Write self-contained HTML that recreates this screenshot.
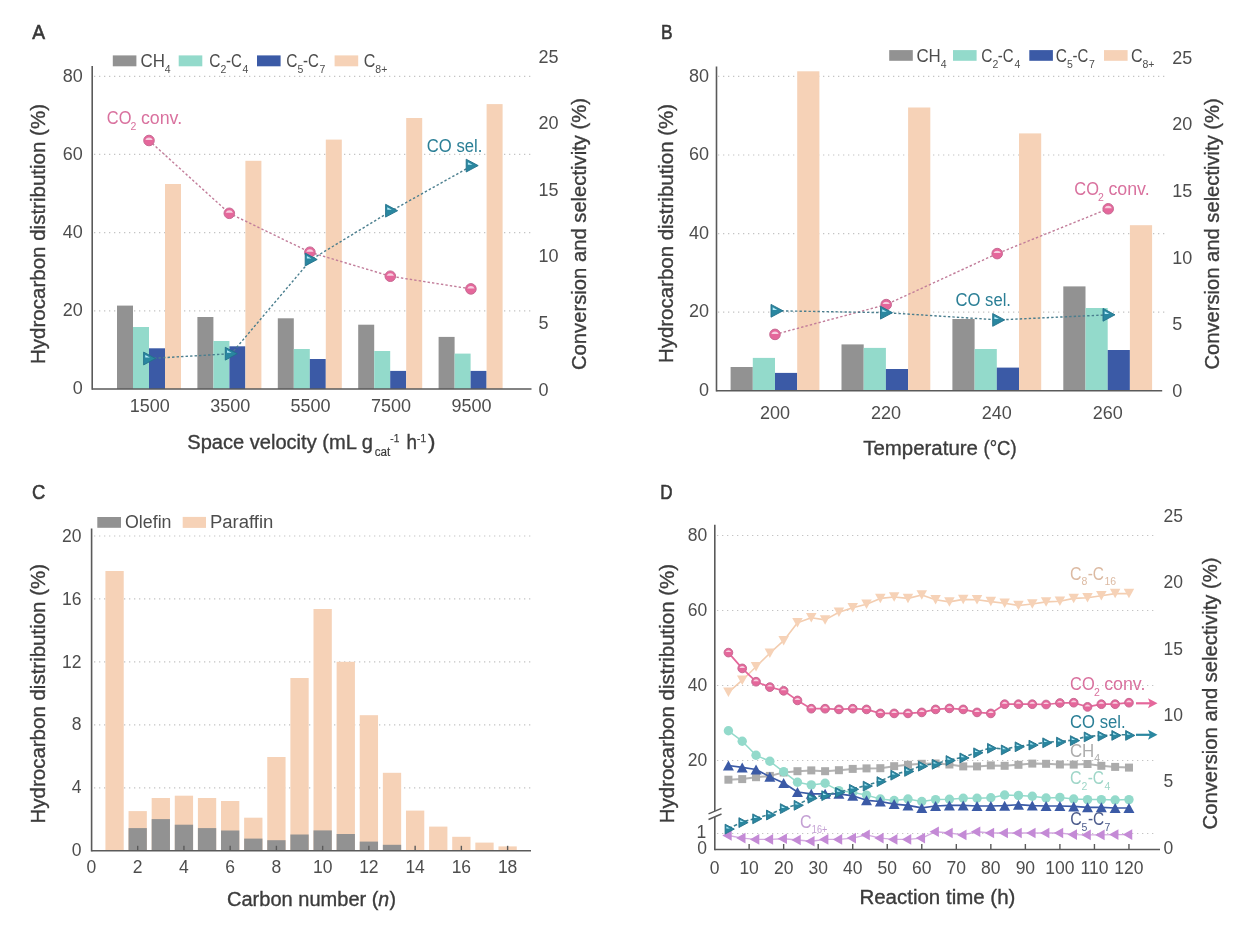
<!DOCTYPE html>
<html><head><meta charset="utf-8"><style>
html,body{margin:0;padding:0;background:#fff;width:1248px;height:938px;overflow:hidden}
svg{display:block;will-change:transform;font-family:"Liberation Sans", sans-serif}
</style></head><body>
<svg width="1248" height="938" viewBox="0 0 1248 938">
<rect width="1248" height="938" fill="#ffffff"/>
<text x="32.30" y="38.70" font-size="20.5" fill="#383838" textLength="12.80" lengthAdjust="spacingAndGlyphs" stroke="#383838" stroke-width="0.6">A</text>
<line x1="94.00" y1="310.82" x2="534.00" y2="310.82" stroke="#c4c4c4" stroke-width="1.2" stroke-dasharray="1.3 3.7" stroke-linecap="butt"/>
<line x1="94.00" y1="232.65" x2="534.00" y2="232.65" stroke="#c4c4c4" stroke-width="1.2" stroke-dasharray="1.3 3.7" stroke-linecap="butt"/>
<line x1="94.00" y1="154.47" x2="534.00" y2="154.47" stroke="#c4c4c4" stroke-width="1.2" stroke-dasharray="1.3 3.7" stroke-linecap="butt"/>
<line x1="94.00" y1="76.30" x2="534.00" y2="76.30" stroke="#c4c4c4" stroke-width="1.2" stroke-dasharray="1.3 3.7" stroke-linecap="butt"/>
<rect x="117.00" y="305.60" width="16.00" height="83.40" fill="#929292"/>
<rect x="133.00" y="327.00" width="16.00" height="62.00" fill="#93dacb"/>
<rect x="149.00" y="348.30" width="16.00" height="40.70" fill="#3b5aa6"/>
<rect x="165.00" y="184.00" width="16.00" height="205.00" fill="#f6d2b7"/>
<rect x="197.40" y="317.00" width="16.00" height="72.00" fill="#929292"/>
<rect x="213.40" y="341.00" width="16.00" height="48.00" fill="#93dacb"/>
<rect x="229.40" y="346.30" width="16.00" height="42.70" fill="#3b5aa6"/>
<rect x="245.40" y="160.80" width="16.00" height="228.20" fill="#f6d2b7"/>
<rect x="277.80" y="318.30" width="16.00" height="70.70" fill="#929292"/>
<rect x="293.80" y="349.00" width="16.00" height="40.00" fill="#93dacb"/>
<rect x="309.80" y="359.00" width="16.00" height="30.00" fill="#3b5aa6"/>
<rect x="325.80" y="139.60" width="16.00" height="249.40" fill="#f6d2b7"/>
<rect x="358.20" y="324.70" width="16.00" height="64.30" fill="#929292"/>
<rect x="374.20" y="351.00" width="16.00" height="38.00" fill="#93dacb"/>
<rect x="390.20" y="370.90" width="16.00" height="18.10" fill="#3b5aa6"/>
<rect x="406.20" y="118.00" width="16.00" height="271.00" fill="#f6d2b7"/>
<rect x="438.60" y="336.90" width="16.00" height="52.10" fill="#929292"/>
<rect x="454.60" y="353.60" width="16.00" height="35.40" fill="#93dacb"/>
<rect x="470.60" y="370.90" width="16.00" height="18.10" fill="#3b5aa6"/>
<rect x="486.60" y="104.10" width="16.00" height="284.90" fill="#f6d2b7"/>
<line x1="92.20" y1="66.00" x2="92.20" y2="389.75" stroke="#5a5a5a" stroke-width="1.6" stroke-linecap="butt"/>
<line x1="92.20" y1="389.00" x2="531.50" y2="389.00" stroke="#5a5a5a" stroke-width="1.6" stroke-linecap="butt"/>
<text x="82.80" y="394.30" font-size="18" fill="#4d4d4d" text-anchor="end">0</text>
<text x="82.80" y="316.12" font-size="18" fill="#4d4d4d" text-anchor="end">20</text>
<text x="82.80" y="237.95" font-size="18" fill="#4d4d4d" text-anchor="end">40</text>
<text x="82.80" y="159.78" font-size="18" fill="#4d4d4d" text-anchor="end">60</text>
<text x="82.80" y="81.60" font-size="18" fill="#4d4d4d" text-anchor="end">80</text>
<text x="538.60" y="395.50" font-size="18" fill="#4d4d4d">0</text>
<text x="538.60" y="328.94" font-size="18" fill="#4d4d4d">5</text>
<text x="538.60" y="262.38" font-size="18" fill="#4d4d4d">10</text>
<text x="538.60" y="195.82" font-size="18" fill="#4d4d4d">15</text>
<text x="538.60" y="129.26" font-size="18" fill="#4d4d4d">20</text>
<text x="538.60" y="62.70" font-size="18" fill="#4d4d4d">25</text>
<text x="149.80" y="412.40" font-size="18" fill="#4d4d4d" text-anchor="middle">1500</text>
<text x="230.20" y="412.40" font-size="18" fill="#4d4d4d" text-anchor="middle">3500</text>
<text x="310.60" y="412.40" font-size="18" fill="#4d4d4d" text-anchor="middle">5500</text>
<text x="391.00" y="412.40" font-size="18" fill="#4d4d4d" text-anchor="middle">7500</text>
<text x="471.40" y="412.40" font-size="18" fill="#4d4d4d" text-anchor="middle">9500</text>
<polyline points="149.00,140.50 229.30,213.30 309.90,252.20 390.30,276.20 470.90,288.90" fill="none" stroke="#c27d9a" stroke-width="1.4" stroke-dasharray="2.4 2.1" stroke-linejoin="round"/>
<polyline points="149.60,358.50 231.30,353.70 311.20,259.50 391.60,210.70 472.20,165.60" fill="none" stroke="#4a7e8e" stroke-width="1.4" stroke-dasharray="2.4 2.1" stroke-linejoin="round"/>
<circle cx="149.00" cy="140.50" r="5.30" fill="#e5679b" stroke="#c76a93" stroke-width="1.0"/>
<path d="M145.32,140.00 A4.00,4.00 0 0 1 152.68,140.00 Z" fill="#f7cfe0"/>
<circle cx="229.30" cy="213.30" r="5.30" fill="#e5679b" stroke="#c76a93" stroke-width="1.0"/>
<path d="M225.62,212.80 A4.00,4.00 0 0 1 232.98,212.80 Z" fill="#f7cfe0"/>
<circle cx="309.90" cy="252.20" r="5.30" fill="#e5679b" stroke="#c76a93" stroke-width="1.0"/>
<path d="M306.22,251.70 A4.00,4.00 0 0 1 313.58,251.70 Z" fill="#f7cfe0"/>
<circle cx="390.30" cy="276.20" r="5.30" fill="#e5679b" stroke="#c76a93" stroke-width="1.0"/>
<path d="M386.62,275.70 A4.00,4.00 0 0 1 393.98,275.70 Z" fill="#f7cfe0"/>
<circle cx="470.90" cy="288.90" r="5.30" fill="#e5679b" stroke="#c76a93" stroke-width="1.0"/>
<path d="M467.22,288.40 A4.00,4.00 0 0 1 474.58,288.40 Z" fill="#f7cfe0"/>
<path d="M143.60,352.10 L155.60,358.50 L143.60,364.90 Z" fill="#2a87a0" stroke="#22708a" stroke-width="0.9" stroke-linejoin="round"/>
<path d="M145.28,355.04 L149.84,357.60 L145.28,357.60 Z" fill="#b4ecfa"/>
<path d="M225.30,347.30 L237.30,353.70 L225.30,360.10 Z" fill="#2a87a0" stroke="#22708a" stroke-width="0.9" stroke-linejoin="round"/>
<path d="M226.98,350.24 L231.54,352.80 L226.98,352.80 Z" fill="#b4ecfa"/>
<path d="M305.20,253.10 L317.20,259.50 L305.20,265.90 Z" fill="#2a87a0" stroke="#22708a" stroke-width="0.9" stroke-linejoin="round"/>
<path d="M306.88,256.04 L311.44,258.60 L306.88,258.60 Z" fill="#b4ecfa"/>
<path d="M385.60,204.30 L397.60,210.70 L385.60,217.10 Z" fill="#2a87a0" stroke="#22708a" stroke-width="0.9" stroke-linejoin="round"/>
<path d="M387.28,207.24 L391.84,209.80 L387.28,209.80 Z" fill="#b4ecfa"/>
<path d="M466.20,159.20 L478.20,165.60 L466.20,172.00 Z" fill="#2a87a0" stroke="#22708a" stroke-width="0.9" stroke-linejoin="round"/>
<path d="M467.88,162.14 L472.44,164.70 L467.88,164.70 Z" fill="#b4ecfa"/>
<text x="106.80" y="124.10" font-size="18" fill="#d9719e" textLength="24.60" lengthAdjust="spacingAndGlyphs">CO</text>
<text x="130.60" y="130.10" font-size="10.5" fill="#d9719e">2</text>
<text x="140.90" y="124.10" font-size="18" fill="#d9719e" textLength="41.20" lengthAdjust="spacingAndGlyphs">conv.</text>
<text x="426.80" y="152.10" font-size="18" fill="#2b7f96" textLength="55.50" lengthAdjust="spacingAndGlyphs">CO sel.</text>
<rect x="112.80" y="55.40" width="23.60" height="10.90" fill="#929292"/>
<rect x="178.70" y="55.40" width="23.60" height="10.90" fill="#93dacb"/>
<rect x="257.00" y="55.40" width="23.60" height="10.90" fill="#3b5aa6"/>
<rect x="334.60" y="55.40" width="23.60" height="10.90" fill="#f6d2b7"/>
<text x="140.55" y="66.90" font-size="18" fill="#4d4d4d" textLength="24.40" lengthAdjust="spacingAndGlyphs">CH</text>
<text x="164.85" y="72.80" font-size="10.5" fill="#4d4d4d">4</text>
<text x="209.30" y="66.90" font-size="18" fill="#4d4d4d" textLength="11.20" lengthAdjust="spacingAndGlyphs">C</text>
<text x="220.60" y="72.80" font-size="10.5" fill="#4d4d4d">2</text>
<text x="225.90" y="66.90" font-size="18" fill="#4d4d4d" textLength="15.80" lengthAdjust="spacingAndGlyphs">-C</text>
<text x="242.60" y="72.80" font-size="10.5" fill="#4d4d4d">4</text>
<text x="286.30" y="66.90" font-size="18" fill="#4d4d4d" textLength="11.20" lengthAdjust="spacingAndGlyphs">C</text>
<text x="297.60" y="72.80" font-size="10.5" fill="#4d4d4d">5</text>
<text x="302.90" y="66.90" font-size="18" fill="#4d4d4d" textLength="15.80" lengthAdjust="spacingAndGlyphs">-C</text>
<text x="319.60" y="72.80" font-size="10.5" fill="#4d4d4d">7</text>
<text x="363.70" y="66.90" font-size="18" fill="#4d4d4d" textLength="11.60" lengthAdjust="spacingAndGlyphs">C</text>
<text x="375.30" y="72.80" font-size="10.5" fill="#4d4d4d">8+</text>
<text x="0" y="0" font-size="19.5" fill="#3c3c3c" text-anchor="middle" transform="translate(45.40,234.00) rotate(-90)" textLength="260.00" lengthAdjust="spacingAndGlyphs" stroke="#3c3c3c" stroke-width="0.35">Hydrocarbon distribution (%)</text>
<text x="0" y="0" font-size="19.5" fill="#3c3c3c" text-anchor="middle" transform="translate(585.50,234.00) rotate(-90)" textLength="272.00" lengthAdjust="spacingAndGlyphs" stroke="#3c3c3c" stroke-width="0.35">Conversion and selectivity (%)</text>
<text x="187.30" y="448.50" font-size="19.5" fill="#3c3c3c" textLength="185.50" lengthAdjust="spacingAndGlyphs" stroke="#3c3c3c" stroke-width="0.35">Space velocity (mL g</text>
<text x="374.80" y="455.50" font-size="12" fill="#3c3c3c" textLength="15.50" lengthAdjust="spacingAndGlyphs" stroke="#3c3c3c" stroke-width="0.2">cat</text>
<text x="390.30" y="441.90" font-size="11" fill="#3c3c3c" textLength="9.00" lengthAdjust="spacingAndGlyphs" stroke="#3c3c3c" stroke-width="0.25">-1</text>
<text x="406.50" y="448.50" font-size="19.5" fill="#3c3c3c" textLength="10.50" lengthAdjust="spacingAndGlyphs" stroke="#3c3c3c" stroke-width="0.35">h</text>
<text x="417.10" y="441.90" font-size="11" fill="#3c3c3c" textLength="9.00" lengthAdjust="spacingAndGlyphs" stroke="#3c3c3c" stroke-width="0.25">-1</text>
<text x="428.00" y="448.50" font-size="19.5" fill="#3c3c3c" textLength="7.50" lengthAdjust="spacingAndGlyphs" stroke="#3c3c3c" stroke-width="0.35">)</text>
<text x="661.00" y="38.70" font-size="20.5" fill="#383838" textLength="11.60" lengthAdjust="spacingAndGlyphs" stroke="#383838" stroke-width="0.6">B</text>
<line x1="718.00" y1="312.12" x2="1165.00" y2="312.12" stroke="#c4c4c4" stroke-width="1.2" stroke-dasharray="1.3 3.7" stroke-linecap="butt"/>
<line x1="718.00" y1="233.55" x2="1165.00" y2="233.55" stroke="#c4c4c4" stroke-width="1.2" stroke-dasharray="1.3 3.7" stroke-linecap="butt"/>
<line x1="718.00" y1="154.98" x2="1165.00" y2="154.98" stroke="#c4c4c4" stroke-width="1.2" stroke-dasharray="1.3 3.7" stroke-linecap="butt"/>
<line x1="718.00" y1="76.40" x2="1165.00" y2="76.40" stroke="#c4c4c4" stroke-width="1.2" stroke-dasharray="1.3 3.7" stroke-linecap="butt"/>
<rect x="730.60" y="367.00" width="22.20" height="23.70" fill="#929292"/>
<rect x="752.80" y="357.90" width="22.20" height="32.80" fill="#93dacb"/>
<rect x="775.00" y="372.90" width="22.20" height="17.80" fill="#3b5aa6"/>
<rect x="797.20" y="71.30" width="22.20" height="319.40" fill="#f6d2b7"/>
<rect x="841.50" y="344.40" width="22.20" height="46.30" fill="#929292"/>
<rect x="863.70" y="347.90" width="22.20" height="42.80" fill="#93dacb"/>
<rect x="885.90" y="369.00" width="22.20" height="21.70" fill="#3b5aa6"/>
<rect x="908.10" y="107.50" width="22.20" height="283.20" fill="#f6d2b7"/>
<rect x="952.40" y="319.00" width="22.20" height="71.70" fill="#929292"/>
<rect x="974.60" y="349.00" width="22.20" height="41.70" fill="#93dacb"/>
<rect x="996.80" y="367.60" width="22.20" height="23.10" fill="#3b5aa6"/>
<rect x="1019.00" y="133.40" width="22.20" height="257.30" fill="#f6d2b7"/>
<rect x="1063.30" y="286.40" width="22.20" height="104.30" fill="#929292"/>
<rect x="1085.50" y="308.00" width="22.20" height="82.70" fill="#93dacb"/>
<rect x="1107.70" y="350.00" width="22.20" height="40.70" fill="#3b5aa6"/>
<rect x="1129.90" y="225.20" width="22.20" height="165.50" fill="#f6d2b7"/>
<line x1="716.50" y1="66.50" x2="716.50" y2="391.45" stroke="#5a5a5a" stroke-width="1.6" stroke-linecap="butt"/>
<line x1="716.50" y1="390.70" x2="1162.20" y2="390.70" stroke="#5a5a5a" stroke-width="1.6" stroke-linecap="butt"/>
<text x="709.00" y="396.00" font-size="18" fill="#4d4d4d" text-anchor="end">0</text>
<text x="709.00" y="317.43" font-size="18" fill="#4d4d4d" text-anchor="end">20</text>
<text x="709.00" y="238.85" font-size="18" fill="#4d4d4d" text-anchor="end">40</text>
<text x="709.00" y="160.28" font-size="18" fill="#4d4d4d" text-anchor="end">60</text>
<text x="709.00" y="81.70" font-size="18" fill="#4d4d4d" text-anchor="end">80</text>
<text x="1172.20" y="397.00" font-size="18" fill="#4d4d4d">0</text>
<text x="1172.20" y="330.30" font-size="18" fill="#4d4d4d">5</text>
<text x="1172.20" y="263.60" font-size="18" fill="#4d4d4d">10</text>
<text x="1172.20" y="196.90" font-size="18" fill="#4d4d4d">15</text>
<text x="1172.20" y="130.20" font-size="18" fill="#4d4d4d">20</text>
<text x="1172.20" y="63.50" font-size="18" fill="#4d4d4d">25</text>
<text x="775.00" y="418.90" font-size="18" fill="#4d4d4d" text-anchor="middle">200</text>
<text x="885.90" y="418.90" font-size="18" fill="#4d4d4d" text-anchor="middle">220</text>
<text x="996.80" y="418.90" font-size="18" fill="#4d4d4d" text-anchor="middle">240</text>
<text x="1107.70" y="418.90" font-size="18" fill="#4d4d4d" text-anchor="middle">260</text>
<polyline points="775.00,334.40 886.20,304.60 997.20,253.60 1108.20,208.80" fill="none" stroke="#c27d9a" stroke-width="1.4" stroke-dasharray="2.4 2.1" stroke-linejoin="round"/>
<polyline points="777.00,310.80 886.50,312.70 998.70,319.90 1109.00,314.80" fill="none" stroke="#4a7e8e" stroke-width="1.4" stroke-dasharray="2.4 2.1" stroke-linejoin="round"/>
<circle cx="775.00" cy="334.40" r="5.30" fill="#e5679b" stroke="#c76a93" stroke-width="1.0"/>
<path d="M771.32,333.90 A4.00,4.00 0 0 1 778.68,333.90 Z" fill="#f7cfe0"/>
<circle cx="886.20" cy="304.60" r="5.30" fill="#e5679b" stroke="#c76a93" stroke-width="1.0"/>
<path d="M882.52,304.10 A4.00,4.00 0 0 1 889.88,304.10 Z" fill="#f7cfe0"/>
<circle cx="997.20" cy="253.60" r="5.30" fill="#e5679b" stroke="#c76a93" stroke-width="1.0"/>
<path d="M993.52,253.10 A4.00,4.00 0 0 1 1000.88,253.10 Z" fill="#f7cfe0"/>
<circle cx="1108.20" cy="208.80" r="5.30" fill="#e5679b" stroke="#c76a93" stroke-width="1.0"/>
<path d="M1104.52,208.30 A4.00,4.00 0 0 1 1111.88,208.30 Z" fill="#f7cfe0"/>
<path d="M771.00,304.40 L783.00,310.80 L771.00,317.20 Z" fill="#2a87a0" stroke="#22708a" stroke-width="0.9" stroke-linejoin="round"/>
<path d="M772.68,307.34 L777.24,309.90 L772.68,309.90 Z" fill="#b4ecfa"/>
<path d="M880.50,306.30 L892.50,312.70 L880.50,319.10 Z" fill="#2a87a0" stroke="#22708a" stroke-width="0.9" stroke-linejoin="round"/>
<path d="M882.18,309.24 L886.74,311.80 L882.18,311.80 Z" fill="#b4ecfa"/>
<path d="M992.70,313.50 L1004.70,319.90 L992.70,326.30 Z" fill="#2a87a0" stroke="#22708a" stroke-width="0.9" stroke-linejoin="round"/>
<path d="M994.38,316.44 L998.94,319.00 L994.38,319.00 Z" fill="#b4ecfa"/>
<path d="M1103.00,308.40 L1115.00,314.80 L1103.00,321.20 Z" fill="#2a87a0" stroke="#22708a" stroke-width="0.9" stroke-linejoin="round"/>
<path d="M1104.68,311.34 L1109.24,313.90 L1104.68,313.90 Z" fill="#b4ecfa"/>
<text x="1074.30" y="194.80" font-size="18" fill="#d9719e" textLength="24.60" lengthAdjust="spacingAndGlyphs">CO</text>
<text x="1098.10" y="200.80" font-size="10.5" fill="#d9719e">2</text>
<text x="1108.40" y="194.80" font-size="18" fill="#d9719e" textLength="41.20" lengthAdjust="spacingAndGlyphs">conv.</text>
<text x="955.50" y="306.40" font-size="18" fill="#2b7f96" textLength="55.50" lengthAdjust="spacingAndGlyphs">CO sel.</text>
<rect x="889.20" y="50.10" width="23.60" height="10.70" fill="#929292"/>
<rect x="953.00" y="50.10" width="23.60" height="10.70" fill="#93dacb"/>
<rect x="1029.30" y="50.10" width="23.60" height="10.70" fill="#3b5aa6"/>
<rect x="1104.00" y="50.10" width="23.60" height="10.70" fill="#f6d2b7"/>
<text x="916.40" y="61.80" font-size="18" fill="#4d4d4d" textLength="24.40" lengthAdjust="spacingAndGlyphs">CH</text>
<text x="940.70" y="67.70" font-size="10.5" fill="#4d4d4d">4</text>
<text x="981.20" y="61.80" font-size="18" fill="#4d4d4d" textLength="11.20" lengthAdjust="spacingAndGlyphs">C</text>
<text x="992.50" y="67.70" font-size="10.5" fill="#4d4d4d">2</text>
<text x="997.80" y="61.80" font-size="18" fill="#4d4d4d" textLength="15.80" lengthAdjust="spacingAndGlyphs">-C</text>
<text x="1014.50" y="67.70" font-size="10.5" fill="#4d4d4d">4</text>
<text x="1055.80" y="61.80" font-size="18" fill="#4d4d4d" textLength="11.20" lengthAdjust="spacingAndGlyphs">C</text>
<text x="1067.10" y="67.70" font-size="10.5" fill="#4d4d4d">5</text>
<text x="1072.40" y="61.80" font-size="18" fill="#4d4d4d" textLength="15.80" lengthAdjust="spacingAndGlyphs">-C</text>
<text x="1089.10" y="67.70" font-size="10.5" fill="#4d4d4d">7</text>
<text x="1130.90" y="61.80" font-size="18" fill="#4d4d4d" textLength="11.60" lengthAdjust="spacingAndGlyphs">C</text>
<text x="1142.50" y="67.70" font-size="10.5" fill="#4d4d4d">8+</text>
<text x="0" y="0" font-size="19.5" fill="#3c3c3c" text-anchor="middle" transform="translate(672.80,233.50) rotate(-90)" textLength="259.20" lengthAdjust="spacingAndGlyphs" stroke="#3c3c3c" stroke-width="0.35">Hydrocarbon distribution (%)</text>
<text x="0" y="0" font-size="19.5" fill="#3c3c3c" text-anchor="middle" transform="translate(1219.40,233.90) rotate(-90)" textLength="271.20" lengthAdjust="spacingAndGlyphs" stroke="#3c3c3c" stroke-width="0.35">Conversion and selectivity (%)</text>
<text x="863.30" y="454.60" font-size="19.5" fill="#3c3c3c" textLength="114.60" lengthAdjust="spacingAndGlyphs" stroke="#3c3c3c" stroke-width="0.35">Temperature</text>
<text x="983.60" y="454.60" font-size="19.5" fill="#3c3c3c" textLength="33.00" lengthAdjust="spacingAndGlyphs" stroke="#3c3c3c" stroke-width="0.35">(°C)</text>
<text x="31.90" y="498.60" font-size="20.5" fill="#383838" textLength="13.30" lengthAdjust="spacingAndGlyphs" stroke="#383838" stroke-width="0.6">C</text>
<line x1="94.00" y1="787.84" x2="533.00" y2="787.84" stroke="#c4c4c4" stroke-width="1.2" stroke-dasharray="1.3 3.7" stroke-linecap="butt"/>
<line x1="94.00" y1="724.88" x2="533.00" y2="724.88" stroke="#c4c4c4" stroke-width="1.2" stroke-dasharray="1.3 3.7" stroke-linecap="butt"/>
<line x1="94.00" y1="661.92" x2="533.00" y2="661.92" stroke="#c4c4c4" stroke-width="1.2" stroke-dasharray="1.3 3.7" stroke-linecap="butt"/>
<line x1="94.00" y1="598.96" x2="533.00" y2="598.96" stroke="#c4c4c4" stroke-width="1.2" stroke-dasharray="1.3 3.7" stroke-linecap="butt"/>
<line x1="94.00" y1="536.00" x2="533.00" y2="536.00" stroke="#c4c4c4" stroke-width="1.2" stroke-dasharray="1.3 3.7" stroke-linecap="butt"/>
<rect x="105.42" y="571.00" width="18.30" height="279.80" fill="#f6d2b7"/>
<rect x="128.54" y="811.10" width="18.30" height="39.70" fill="#f6d2b7"/>
<rect x="128.54" y="828.10" width="18.30" height="22.70" fill="#929292"/>
<rect x="151.66" y="798.00" width="18.30" height="52.80" fill="#f6d2b7"/>
<rect x="151.66" y="819.10" width="18.30" height="31.70" fill="#929292"/>
<rect x="174.78" y="795.70" width="18.30" height="55.10" fill="#f6d2b7"/>
<rect x="174.78" y="824.70" width="18.30" height="26.10" fill="#929292"/>
<rect x="197.90" y="798.00" width="18.30" height="52.80" fill="#f6d2b7"/>
<rect x="197.90" y="828.10" width="18.30" height="22.70" fill="#929292"/>
<rect x="221.02" y="801.00" width="18.30" height="49.80" fill="#f6d2b7"/>
<rect x="221.02" y="830.50" width="18.30" height="20.30" fill="#929292"/>
<rect x="244.14" y="817.70" width="18.30" height="33.10" fill="#f6d2b7"/>
<rect x="244.14" y="838.60" width="18.30" height="12.20" fill="#929292"/>
<rect x="267.26" y="757.00" width="18.30" height="93.80" fill="#f6d2b7"/>
<rect x="267.26" y="840.20" width="18.30" height="10.60" fill="#929292"/>
<rect x="290.38" y="678.00" width="18.30" height="172.80" fill="#f6d2b7"/>
<rect x="290.38" y="834.50" width="18.30" height="16.30" fill="#929292"/>
<rect x="313.50" y="609.00" width="18.30" height="241.80" fill="#f6d2b7"/>
<rect x="313.50" y="830.40" width="18.30" height="20.40" fill="#929292"/>
<rect x="336.62" y="661.80" width="18.30" height="189.00" fill="#f6d2b7"/>
<rect x="336.62" y="834.00" width="18.30" height="16.80" fill="#929292"/>
<rect x="359.74" y="715.20" width="18.30" height="135.60" fill="#f6d2b7"/>
<rect x="359.74" y="841.60" width="18.30" height="9.20" fill="#929292"/>
<rect x="382.86" y="772.80" width="18.30" height="78.00" fill="#f6d2b7"/>
<rect x="382.86" y="844.80" width="18.30" height="6.00" fill="#929292"/>
<rect x="405.98" y="810.60" width="18.30" height="40.20" fill="#f6d2b7"/>
<rect x="429.10" y="826.60" width="18.30" height="24.20" fill="#f6d2b7"/>
<rect x="452.22" y="836.80" width="18.30" height="14.00" fill="#f6d2b7"/>
<rect x="475.34" y="842.60" width="18.30" height="8.20" fill="#f6d2b7"/>
<rect x="498.46" y="846.40" width="18.30" height="4.40" fill="#f6d2b7"/>
<line x1="91.60" y1="528.50" x2="91.60" y2="851.55" stroke="#5a5a5a" stroke-width="1.6" stroke-linecap="butt"/>
<line x1="91.60" y1="850.80" x2="531.00" y2="850.80" stroke="#5a5a5a" stroke-width="1.6" stroke-linecap="butt"/>
<line x1="137.69" y1="845.80" x2="137.69" y2="850.80" stroke="#5a5a5a" stroke-width="1.4" stroke-linecap="butt"/>
<line x1="183.93" y1="845.80" x2="183.93" y2="850.80" stroke="#5a5a5a" stroke-width="1.4" stroke-linecap="butt"/>
<line x1="230.17" y1="845.80" x2="230.17" y2="850.80" stroke="#5a5a5a" stroke-width="1.4" stroke-linecap="butt"/>
<line x1="276.41" y1="845.80" x2="276.41" y2="850.80" stroke="#5a5a5a" stroke-width="1.4" stroke-linecap="butt"/>
<line x1="322.65" y1="845.80" x2="322.65" y2="850.80" stroke="#5a5a5a" stroke-width="1.4" stroke-linecap="butt"/>
<line x1="368.89" y1="845.80" x2="368.89" y2="850.80" stroke="#5a5a5a" stroke-width="1.4" stroke-linecap="butt"/>
<line x1="415.13" y1="845.80" x2="415.13" y2="850.80" stroke="#5a5a5a" stroke-width="1.4" stroke-linecap="butt"/>
<line x1="461.37" y1="845.80" x2="461.37" y2="850.80" stroke="#5a5a5a" stroke-width="1.4" stroke-linecap="butt"/>
<line x1="507.61" y1="845.80" x2="507.61" y2="850.80" stroke="#5a5a5a" stroke-width="1.4" stroke-linecap="butt"/>
<text x="81.40" y="856.40" font-size="17.5" fill="#4d4d4d" text-anchor="end">0</text>
<text x="81.40" y="793.44" font-size="17.5" fill="#4d4d4d" text-anchor="end">4</text>
<text x="81.40" y="730.48" font-size="17.5" fill="#4d4d4d" text-anchor="end">8</text>
<text x="81.40" y="667.52" font-size="17.5" fill="#4d4d4d" text-anchor="end">12</text>
<text x="81.40" y="604.56" font-size="17.5" fill="#4d4d4d" text-anchor="end">16</text>
<text x="81.40" y="541.60" font-size="17.5" fill="#4d4d4d" text-anchor="end">20</text>
<text x="91.45" y="873.40" font-size="17.5" fill="#4d4d4d" text-anchor="middle">0</text>
<text x="137.69" y="873.40" font-size="17.5" fill="#4d4d4d" text-anchor="middle">2</text>
<text x="183.93" y="873.40" font-size="17.5" fill="#4d4d4d" text-anchor="middle">4</text>
<text x="230.17" y="873.40" font-size="17.5" fill="#4d4d4d" text-anchor="middle">6</text>
<text x="276.41" y="873.40" font-size="17.5" fill="#4d4d4d" text-anchor="middle">8</text>
<text x="322.65" y="873.40" font-size="17.5" fill="#4d4d4d" text-anchor="middle">10</text>
<text x="368.89" y="873.40" font-size="17.5" fill="#4d4d4d" text-anchor="middle">12</text>
<text x="415.13" y="873.40" font-size="17.5" fill="#4d4d4d" text-anchor="middle">14</text>
<text x="461.37" y="873.40" font-size="17.5" fill="#4d4d4d" text-anchor="middle">16</text>
<text x="507.61" y="873.40" font-size="17.5" fill="#4d4d4d" text-anchor="middle">18</text>
<rect x="97.30" y="517.00" width="23.70" height="10.80" fill="#929292"/>
<rect x="182.70" y="516.90" width="23.30" height="11.00" fill="#f6d2b7"/>
<text x="125.00" y="528.30" font-size="18" fill="#4d4d4d" textLength="46.50" lengthAdjust="spacingAndGlyphs">Olefin</text>
<text x="209.90" y="527.50" font-size="18" fill="#4d4d4d" textLength="63.50" lengthAdjust="spacingAndGlyphs">Paraffin</text>
<text x="0" y="0" font-size="19.5" fill="#3c3c3c" text-anchor="middle" transform="translate(45.20,693.70) rotate(-90)" textLength="259.50" lengthAdjust="spacingAndGlyphs" stroke="#3c3c3c" stroke-width="0.35">Hydrocarbon distribution (%)</text>
<text x="227.00" y="906.10" font-size="19.5" fill="#3c3c3c" textLength="151.50" lengthAdjust="spacingAndGlyphs" stroke="#3c3c3c" stroke-width="0.35">Carbon number (</text>
<text x="378.30" y="906.10" font-size="19.5" fill="#3c3c3c" stroke="#3c3c3c" stroke-width="0.35" font-style="italic">n</text>
<text x="389.60" y="906.10" font-size="19.5" fill="#3c3c3c" stroke="#3c3c3c" stroke-width="0.35">)</text>
<text x="660.30" y="499.00" font-size="20.5" fill="#383838" textLength="12.30" lengthAdjust="spacingAndGlyphs" stroke="#383838" stroke-width="0.6">D</text>
<line x1="717.00" y1="760.50" x2="1157.00" y2="760.50" stroke="#c4c4c4" stroke-width="1.2" stroke-dasharray="1.3 3.7" stroke-linecap="butt"/>
<line x1="717.00" y1="685.50" x2="1157.00" y2="685.50" stroke="#c4c4c4" stroke-width="1.2" stroke-dasharray="1.3 3.7" stroke-linecap="butt"/>
<line x1="717.00" y1="610.50" x2="1157.00" y2="610.50" stroke="#c4c4c4" stroke-width="1.2" stroke-dasharray="1.3 3.7" stroke-linecap="butt"/>
<line x1="717.00" y1="535.50" x2="1157.00" y2="535.50" stroke="#c4c4c4" stroke-width="1.2" stroke-dasharray="1.3 3.7" stroke-linecap="butt"/>
<line x1="717.00" y1="833.50" x2="1157.00" y2="833.50" stroke="#c4c4c4" stroke-width="1.2" stroke-dasharray="1.3 3.7" stroke-linecap="butt"/>
<line x1="714.80" y1="524.70" x2="714.80" y2="811.00" stroke="#5a5a5a" stroke-width="1.6" stroke-linecap="butt"/>
<line x1="714.80" y1="816.50" x2="714.80" y2="850.25" stroke="#5a5a5a" stroke-width="1.6" stroke-linecap="butt"/>
<polygon points="708.5,813.8 721.5,808.3 721.5,814.0 708.5,819.5" fill="#ffffff"/>
<line x1="708.50" y1="813.80" x2="721.50" y2="808.30" stroke="#5a5a5a" stroke-width="1.4" stroke-linecap="butt"/>
<line x1="708.50" y1="819.50" x2="721.50" y2="814.00" stroke="#5a5a5a" stroke-width="1.4" stroke-linecap="butt"/>
<line x1="714.80" y1="849.50" x2="1160.00" y2="849.50" stroke="#5a5a5a" stroke-width="1.6" stroke-linecap="butt"/>
<line x1="749.13" y1="844.00" x2="749.13" y2="849.50" stroke="#5a5a5a" stroke-width="1.4" stroke-linecap="butt"/>
<line x1="783.66" y1="844.00" x2="783.66" y2="849.50" stroke="#5a5a5a" stroke-width="1.4" stroke-linecap="butt"/>
<line x1="818.19" y1="844.00" x2="818.19" y2="849.50" stroke="#5a5a5a" stroke-width="1.4" stroke-linecap="butt"/>
<line x1="852.72" y1="844.00" x2="852.72" y2="849.50" stroke="#5a5a5a" stroke-width="1.4" stroke-linecap="butt"/>
<line x1="887.25" y1="844.00" x2="887.25" y2="849.50" stroke="#5a5a5a" stroke-width="1.4" stroke-linecap="butt"/>
<line x1="921.78" y1="844.00" x2="921.78" y2="849.50" stroke="#5a5a5a" stroke-width="1.4" stroke-linecap="butt"/>
<line x1="956.31" y1="844.00" x2="956.31" y2="849.50" stroke="#5a5a5a" stroke-width="1.4" stroke-linecap="butt"/>
<line x1="990.84" y1="844.00" x2="990.84" y2="849.50" stroke="#5a5a5a" stroke-width="1.4" stroke-linecap="butt"/>
<line x1="1025.37" y1="844.00" x2="1025.37" y2="849.50" stroke="#5a5a5a" stroke-width="1.4" stroke-linecap="butt"/>
<line x1="1059.90" y1="844.00" x2="1059.90" y2="849.50" stroke="#5a5a5a" stroke-width="1.4" stroke-linecap="butt"/>
<line x1="1094.43" y1="844.00" x2="1094.43" y2="849.50" stroke="#5a5a5a" stroke-width="1.4" stroke-linecap="butt"/>
<line x1="1128.96" y1="844.00" x2="1128.96" y2="849.50" stroke="#5a5a5a" stroke-width="1.4" stroke-linecap="butt"/>
<text x="707.20" y="765.50" font-size="17.5" fill="#4d4d4d" text-anchor="end">20</text>
<text x="707.20" y="690.50" font-size="17.5" fill="#4d4d4d" text-anchor="end">40</text>
<text x="707.20" y="615.50" font-size="17.5" fill="#4d4d4d" text-anchor="end">60</text>
<text x="707.20" y="540.50" font-size="17.5" fill="#4d4d4d" text-anchor="end">80</text>
<text x="706.20" y="837.80" font-size="17.5" fill="#4d4d4d" text-anchor="end">1</text>
<text x="707.00" y="854.40" font-size="17.5" fill="#4d4d4d" text-anchor="end">0</text>
<text x="1163.60" y="853.70" font-size="17.5" fill="#4d4d4d">0</text>
<text x="1163.60" y="787.30" font-size="17.5" fill="#4d4d4d">5</text>
<text x="1163.60" y="720.90" font-size="17.5" fill="#4d4d4d">10</text>
<text x="1163.60" y="654.50" font-size="17.5" fill="#4d4d4d">15</text>
<text x="1163.60" y="588.10" font-size="17.5" fill="#4d4d4d">20</text>
<text x="1163.60" y="521.70" font-size="17.5" fill="#4d4d4d">25</text>
<text x="714.60" y="873.80" font-size="17.5" fill="#4d4d4d" text-anchor="middle">0</text>
<text x="749.13" y="873.80" font-size="17.5" fill="#4d4d4d" text-anchor="middle">10</text>
<text x="783.66" y="873.80" font-size="17.5" fill="#4d4d4d" text-anchor="middle">20</text>
<text x="818.19" y="873.80" font-size="17.5" fill="#4d4d4d" text-anchor="middle">30</text>
<text x="852.72" y="873.80" font-size="17.5" fill="#4d4d4d" text-anchor="middle">40</text>
<text x="887.25" y="873.80" font-size="17.5" fill="#4d4d4d" text-anchor="middle">50</text>
<text x="921.78" y="873.80" font-size="17.5" fill="#4d4d4d" text-anchor="middle">60</text>
<text x="956.31" y="873.80" font-size="17.5" fill="#4d4d4d" text-anchor="middle">70</text>
<text x="990.84" y="873.80" font-size="17.5" fill="#4d4d4d" text-anchor="middle">80</text>
<text x="1025.37" y="873.80" font-size="17.5" fill="#4d4d4d" text-anchor="middle">90</text>
<text x="1059.90" y="873.80" font-size="17.5" fill="#4d4d4d" text-anchor="middle">100</text>
<text x="1094.43" y="873.80" font-size="17.5" fill="#4d4d4d" text-anchor="middle">110</text>
<text x="1128.96" y="873.80" font-size="17.5" fill="#4d4d4d" text-anchor="middle">120</text>
<polyline points="728.41,835.50 742.22,838.10 756.04,839.40 769.85,839.40 783.66,838.70 797.47,840.00 811.28,841.30 825.10,839.40 838.91,839.40 852.72,838.10 866.53,834.90 880.34,838.10 894.16,839.40 907.97,839.40 921.78,838.10 935.59,831.70 949.40,833.00 963.22,834.90 977.03,831.70 990.84,833.00 1004.65,833.00 1018.46,833.00 1032.28,833.00 1046.09,833.00 1059.90,833.00 1073.71,834.60 1087.52,834.90 1101.34,834.90 1115.15,834.60 1128.96,834.60" fill="none" stroke="#d3a9e0" stroke-width="1.4" stroke-linejoin="round"/>
<polygon points="731.71,830.20 722.31,835.50 731.71,840.80" fill="#c48ad6"/>
<polygon points="745.52,832.80 736.12,838.10 745.52,843.40" fill="#c48ad6"/>
<polygon points="759.34,834.10 749.94,839.40 759.34,844.70" fill="#c48ad6"/>
<polygon points="773.15,834.10 763.75,839.40 773.15,844.70" fill="#c48ad6"/>
<polygon points="786.96,833.40 777.56,838.70 786.96,844.00" fill="#c48ad6"/>
<polygon points="800.77,834.70 791.37,840.00 800.77,845.30" fill="#c48ad6"/>
<polygon points="814.58,836.00 805.18,841.30 814.58,846.60" fill="#c48ad6"/>
<polygon points="828.40,834.10 819.00,839.40 828.40,844.70" fill="#c48ad6"/>
<polygon points="842.21,834.10 832.81,839.40 842.21,844.70" fill="#c48ad6"/>
<polygon points="856.02,832.80 846.62,838.10 856.02,843.40" fill="#c48ad6"/>
<polygon points="869.83,829.60 860.43,834.90 869.83,840.20" fill="#c48ad6"/>
<polygon points="883.64,832.80 874.24,838.10 883.64,843.40" fill="#c48ad6"/>
<polygon points="897.46,834.10 888.06,839.40 897.46,844.70" fill="#c48ad6"/>
<polygon points="911.27,834.10 901.87,839.40 911.27,844.70" fill="#c48ad6"/>
<polygon points="925.08,832.80 915.68,838.10 925.08,843.40" fill="#c48ad6"/>
<polygon points="938.89,826.40 929.49,831.70 938.89,837.00" fill="#c48ad6"/>
<polygon points="952.70,827.70 943.30,833.00 952.70,838.30" fill="#c48ad6"/>
<polygon points="966.52,829.60 957.12,834.90 966.52,840.20" fill="#c48ad6"/>
<polygon points="980.33,826.40 970.93,831.70 980.33,837.00" fill="#c48ad6"/>
<polygon points="994.14,827.70 984.74,833.00 994.14,838.30" fill="#c48ad6"/>
<polygon points="1007.95,827.70 998.55,833.00 1007.95,838.30" fill="#c48ad6"/>
<polygon points="1021.76,827.70 1012.36,833.00 1021.76,838.30" fill="#c48ad6"/>
<polygon points="1035.58,827.70 1026.18,833.00 1035.58,838.30" fill="#c48ad6"/>
<polygon points="1049.39,827.70 1039.99,833.00 1049.39,838.30" fill="#c48ad6"/>
<polygon points="1063.20,827.70 1053.80,833.00 1063.20,838.30" fill="#c48ad6"/>
<polygon points="1077.01,829.30 1067.61,834.60 1077.01,839.90" fill="#c48ad6"/>
<polygon points="1090.82,829.60 1081.42,834.90 1090.82,840.20" fill="#c48ad6"/>
<polygon points="1104.64,829.60 1095.24,834.90 1104.64,840.20" fill="#c48ad6"/>
<polygon points="1118.45,829.30 1109.05,834.60 1118.45,839.90" fill="#c48ad6"/>
<polygon points="1132.26,829.30 1122.86,834.60 1132.26,839.90" fill="#c48ad6"/>
<polyline points="728.41,779.70 742.22,779.10 756.04,777.20 769.85,775.90 783.66,772.50 797.47,771.20 811.28,770.40 825.10,771.20 838.91,770.20 852.72,768.90 866.53,768.40 880.34,768.20 894.16,766.20 907.97,764.80 921.78,763.80 935.59,763.50 949.40,764.50 963.22,766.40 977.03,766.40 990.84,765.40 1004.65,765.80 1018.46,764.80 1032.28,763.60 1046.09,763.80 1059.90,764.50 1073.71,764.60 1087.52,764.00 1101.34,765.80 1115.15,766.90 1128.96,767.60" fill="none" stroke="#b4b4b4" stroke-width="2.0" stroke-linejoin="round"/>
<rect x="724.41" y="775.70" width="8.00" height="8.00" fill="#ababab"/>
<rect x="738.22" y="775.10" width="8.00" height="8.00" fill="#ababab"/>
<rect x="752.04" y="773.20" width="8.00" height="8.00" fill="#ababab"/>
<rect x="765.85" y="771.90" width="8.00" height="8.00" fill="#ababab"/>
<rect x="779.66" y="768.50" width="8.00" height="8.00" fill="#ababab"/>
<rect x="793.47" y="767.20" width="8.00" height="8.00" fill="#ababab"/>
<rect x="807.28" y="766.40" width="8.00" height="8.00" fill="#ababab"/>
<rect x="821.10" y="767.20" width="8.00" height="8.00" fill="#ababab"/>
<rect x="834.91" y="766.20" width="8.00" height="8.00" fill="#ababab"/>
<rect x="848.72" y="764.90" width="8.00" height="8.00" fill="#ababab"/>
<rect x="862.53" y="764.40" width="8.00" height="8.00" fill="#ababab"/>
<rect x="876.34" y="764.20" width="8.00" height="8.00" fill="#ababab"/>
<rect x="890.16" y="762.20" width="8.00" height="8.00" fill="#ababab"/>
<rect x="903.97" y="760.80" width="8.00" height="8.00" fill="#ababab"/>
<rect x="917.78" y="759.80" width="8.00" height="8.00" fill="#ababab"/>
<rect x="931.59" y="759.50" width="8.00" height="8.00" fill="#ababab"/>
<rect x="945.40" y="760.50" width="8.00" height="8.00" fill="#ababab"/>
<rect x="959.22" y="762.40" width="8.00" height="8.00" fill="#ababab"/>
<rect x="973.03" y="762.40" width="8.00" height="8.00" fill="#ababab"/>
<rect x="986.84" y="761.40" width="8.00" height="8.00" fill="#ababab"/>
<rect x="1000.65" y="761.80" width="8.00" height="8.00" fill="#ababab"/>
<rect x="1014.46" y="760.80" width="8.00" height="8.00" fill="#ababab"/>
<rect x="1028.28" y="759.60" width="8.00" height="8.00" fill="#ababab"/>
<rect x="1042.09" y="759.80" width="8.00" height="8.00" fill="#ababab"/>
<rect x="1055.90" y="760.50" width="8.00" height="8.00" fill="#ababab"/>
<rect x="1069.71" y="760.60" width="8.00" height="8.00" fill="#ababab"/>
<rect x="1083.52" y="760.00" width="8.00" height="8.00" fill="#ababab"/>
<rect x="1097.34" y="761.80" width="8.00" height="8.00" fill="#ababab"/>
<rect x="1111.15" y="762.90" width="8.00" height="8.00" fill="#ababab"/>
<rect x="1124.96" y="763.60" width="8.00" height="8.00" fill="#ababab"/>
<polyline points="728.41,730.80 742.22,741.20 756.04,755.30 769.85,761.30 783.66,771.80 797.47,782.30 811.28,784.90 825.10,783.30 838.91,790.60 852.72,792.60 866.53,795.10 880.34,799.00 894.16,800.50 907.97,799.00 921.78,801.50 935.59,799.60 949.40,799.20 963.22,798.30 977.03,798.30 990.84,797.70 1004.65,795.00 1018.46,795.40 1032.28,796.20 1046.09,798.00 1059.90,797.40 1073.71,799.00 1087.52,799.60 1101.34,799.60 1115.15,800.00 1128.96,799.60" fill="none" stroke="#93dacb" stroke-width="1.5" stroke-linejoin="round"/>
<circle cx="728.41" cy="730.80" r="4.7" fill="#93dacb"/>
<circle cx="742.22" cy="741.20" r="4.7" fill="#93dacb"/>
<circle cx="756.04" cy="755.30" r="4.7" fill="#93dacb"/>
<circle cx="769.85" cy="761.30" r="4.7" fill="#93dacb"/>
<circle cx="783.66" cy="771.80" r="4.7" fill="#93dacb"/>
<circle cx="797.47" cy="782.30" r="4.7" fill="#93dacb"/>
<circle cx="811.28" cy="784.90" r="4.7" fill="#93dacb"/>
<circle cx="825.10" cy="783.30" r="4.7" fill="#93dacb"/>
<circle cx="838.91" cy="790.60" r="4.7" fill="#93dacb"/>
<circle cx="852.72" cy="792.60" r="4.7" fill="#93dacb"/>
<circle cx="866.53" cy="795.10" r="4.7" fill="#93dacb"/>
<circle cx="880.34" cy="799.00" r="4.7" fill="#93dacb"/>
<circle cx="894.16" cy="800.50" r="4.7" fill="#93dacb"/>
<circle cx="907.97" cy="799.00" r="4.7" fill="#93dacb"/>
<circle cx="921.78" cy="801.50" r="4.7" fill="#93dacb"/>
<circle cx="935.59" cy="799.60" r="4.7" fill="#93dacb"/>
<circle cx="949.40" cy="799.20" r="4.7" fill="#93dacb"/>
<circle cx="963.22" cy="798.30" r="4.7" fill="#93dacb"/>
<circle cx="977.03" cy="798.30" r="4.7" fill="#93dacb"/>
<circle cx="990.84" cy="797.70" r="4.7" fill="#93dacb"/>
<circle cx="1004.65" cy="795.00" r="4.7" fill="#93dacb"/>
<circle cx="1018.46" cy="795.40" r="4.7" fill="#93dacb"/>
<circle cx="1032.28" cy="796.20" r="4.7" fill="#93dacb"/>
<circle cx="1046.09" cy="798.00" r="4.7" fill="#93dacb"/>
<circle cx="1059.90" cy="797.40" r="4.7" fill="#93dacb"/>
<circle cx="1073.71" cy="799.00" r="4.7" fill="#93dacb"/>
<circle cx="1087.52" cy="799.60" r="4.7" fill="#93dacb"/>
<circle cx="1101.34" cy="799.60" r="4.7" fill="#93dacb"/>
<circle cx="1115.15" cy="800.00" r="4.7" fill="#93dacb"/>
<circle cx="1128.96" cy="799.60" r="4.7" fill="#93dacb"/>
<polyline points="728.41,765.50 742.22,767.40 756.04,769.50 769.85,776.80 783.66,783.00 797.47,792.00 811.28,793.80 825.10,793.80 838.91,793.80 852.72,795.80 866.53,800.30 880.34,801.50 894.16,804.10 907.97,805.40 921.78,807.90 935.59,806.00 949.40,805.40 963.22,805.40 977.03,806.00 990.84,806.00 1004.65,805.70 1018.46,804.70 1032.28,805.60 1046.09,806.00 1059.90,806.00 1073.71,806.40 1087.52,807.30 1101.34,807.30 1115.15,808.00 1128.96,808.00" fill="none" stroke="#3b5aa6" stroke-width="1.7" stroke-linejoin="round"/>
<polygon points="722.91,770.50 728.41,760.50 733.91,770.50" fill="#3b5aa6"/>
<polygon points="736.72,772.40 742.22,762.40 747.72,772.40" fill="#3b5aa6"/>
<polygon points="750.54,774.50 756.04,764.50 761.54,774.50" fill="#3b5aa6"/>
<polygon points="764.35,781.80 769.85,771.80 775.35,781.80" fill="#3b5aa6"/>
<polygon points="778.16,788.00 783.66,778.00 789.16,788.00" fill="#3b5aa6"/>
<polygon points="791.97,797.00 797.47,787.00 802.97,797.00" fill="#3b5aa6"/>
<polygon points="805.78,798.80 811.28,788.80 816.78,798.80" fill="#3b5aa6"/>
<polygon points="819.60,798.80 825.10,788.80 830.60,798.80" fill="#3b5aa6"/>
<polygon points="833.41,798.80 838.91,788.80 844.41,798.80" fill="#3b5aa6"/>
<polygon points="847.22,800.80 852.72,790.80 858.22,800.80" fill="#3b5aa6"/>
<polygon points="861.03,805.30 866.53,795.30 872.03,805.30" fill="#3b5aa6"/>
<polygon points="874.84,806.50 880.34,796.50 885.84,806.50" fill="#3b5aa6"/>
<polygon points="888.66,809.10 894.16,799.10 899.66,809.10" fill="#3b5aa6"/>
<polygon points="902.47,810.40 907.97,800.40 913.47,810.40" fill="#3b5aa6"/>
<polygon points="916.28,812.90 921.78,802.90 927.28,812.90" fill="#3b5aa6"/>
<polygon points="930.09,811.00 935.59,801.00 941.09,811.00" fill="#3b5aa6"/>
<polygon points="943.90,810.40 949.40,800.40 954.90,810.40" fill="#3b5aa6"/>
<polygon points="957.72,810.40 963.22,800.40 968.72,810.40" fill="#3b5aa6"/>
<polygon points="971.53,811.00 977.03,801.00 982.53,811.00" fill="#3b5aa6"/>
<polygon points="985.34,811.00 990.84,801.00 996.34,811.00" fill="#3b5aa6"/>
<polygon points="999.15,810.70 1004.65,800.70 1010.15,810.70" fill="#3b5aa6"/>
<polygon points="1012.96,809.70 1018.46,799.70 1023.96,809.70" fill="#3b5aa6"/>
<polygon points="1026.78,810.60 1032.28,800.60 1037.78,810.60" fill="#3b5aa6"/>
<polygon points="1040.59,811.00 1046.09,801.00 1051.59,811.00" fill="#3b5aa6"/>
<polygon points="1054.40,811.00 1059.90,801.00 1065.40,811.00" fill="#3b5aa6"/>
<polygon points="1068.21,811.40 1073.71,801.40 1079.21,811.40" fill="#3b5aa6"/>
<polygon points="1082.02,812.30 1087.52,802.30 1093.02,812.30" fill="#3b5aa6"/>
<polygon points="1095.84,812.30 1101.34,802.30 1106.84,812.30" fill="#3b5aa6"/>
<polygon points="1109.65,813.00 1115.15,803.00 1120.65,813.00" fill="#3b5aa6"/>
<polygon points="1123.46,813.00 1128.96,803.00 1134.46,813.00" fill="#3b5aa6"/>
<polyline points="728.41,828.50 742.22,822.00 756.04,818.20 769.85,814.40 783.66,808.00 797.47,804.70 811.28,797.70 825.10,795.10 838.91,791.90 852.72,788.70 866.53,785.50 880.34,781.00 894.16,774.60 907.97,770.80 921.78,765.60 935.59,763.70 949.40,759.90 963.22,757.30 977.03,752.20 990.84,747.70 1004.65,749.30 1018.46,746.20 1032.28,744.50 1046.09,742.20 1059.90,741.50 1073.71,740.00 1087.52,736.30 1101.34,735.50 1115.15,734.80 1128.96,734.80" fill="none" stroke="#3a8193" stroke-width="1.6" stroke-dasharray="3.6 2.4" stroke-linejoin="round"/>
<line x1="1136.00" y1="734.80" x2="1152.00" y2="734.80" stroke="#2a87a0" stroke-width="2.2" stroke-linecap="butt"/>
<polygon points="1157.5,734.8 1148.0,729.8 1150.0,734.8 1148.0,739.8" fill="#2a87a0"/>
<path d="M725.11,824.20 L734.31,829.10 L725.11,834.00 Z" fill="#2a87a0" stroke="#22708a" stroke-width="0.9" stroke-linejoin="round"/>
<path d="M726.40,826.45 L729.90,828.41 L726.40,828.41 Z" fill="#b4ecfa"/>
<path d="M738.92,817.70 L748.12,822.60 L738.92,827.50 Z" fill="#2a87a0" stroke="#22708a" stroke-width="0.9" stroke-linejoin="round"/>
<path d="M740.21,819.95 L743.71,821.91 L740.21,821.91 Z" fill="#b4ecfa"/>
<path d="M752.74,813.90 L761.94,818.80 L752.74,823.70 Z" fill="#2a87a0" stroke="#22708a" stroke-width="0.9" stroke-linejoin="round"/>
<path d="M754.02,816.15 L757.52,818.11 L754.02,818.11 Z" fill="#b4ecfa"/>
<path d="M766.55,810.10 L775.75,815.00 L766.55,819.90 Z" fill="#2a87a0" stroke="#22708a" stroke-width="0.9" stroke-linejoin="round"/>
<path d="M767.84,812.35 L771.33,814.31 L767.84,814.31 Z" fill="#b4ecfa"/>
<path d="M780.36,803.70 L789.56,808.60 L780.36,813.50 Z" fill="#2a87a0" stroke="#22708a" stroke-width="0.9" stroke-linejoin="round"/>
<path d="M781.65,805.95 L785.14,807.91 L781.65,807.91 Z" fill="#b4ecfa"/>
<path d="M794.17,800.40 L803.37,805.30 L794.17,810.20 Z" fill="#2a87a0" stroke="#22708a" stroke-width="0.9" stroke-linejoin="round"/>
<path d="M795.46,802.65 L798.96,804.61 L795.46,804.61 Z" fill="#b4ecfa"/>
<path d="M807.98,793.40 L817.18,798.30 L807.98,803.20 Z" fill="#2a87a0" stroke="#22708a" stroke-width="0.9" stroke-linejoin="round"/>
<path d="M809.27,795.65 L812.77,797.61 L809.27,797.61 Z" fill="#b4ecfa"/>
<path d="M821.80,790.80 L831.00,795.70 L821.80,800.60 Z" fill="#2a87a0" stroke="#22708a" stroke-width="0.9" stroke-linejoin="round"/>
<path d="M823.08,793.05 L826.58,795.01 L823.08,795.01 Z" fill="#b4ecfa"/>
<path d="M835.61,787.60 L844.81,792.50 L835.61,797.40 Z" fill="#2a87a0" stroke="#22708a" stroke-width="0.9" stroke-linejoin="round"/>
<path d="M836.90,789.85 L840.39,791.81 L836.90,791.81 Z" fill="#b4ecfa"/>
<path d="M849.42,784.40 L858.62,789.30 L849.42,794.20 Z" fill="#2a87a0" stroke="#22708a" stroke-width="0.9" stroke-linejoin="round"/>
<path d="M850.71,786.65 L854.20,788.61 L850.71,788.61 Z" fill="#b4ecfa"/>
<path d="M863.23,781.20 L872.43,786.10 L863.23,791.00 Z" fill="#2a87a0" stroke="#22708a" stroke-width="0.9" stroke-linejoin="round"/>
<path d="M864.52,783.45 L868.02,785.41 L864.52,785.41 Z" fill="#b4ecfa"/>
<path d="M877.04,776.70 L886.24,781.60 L877.04,786.50 Z" fill="#2a87a0" stroke="#22708a" stroke-width="0.9" stroke-linejoin="round"/>
<path d="M878.33,778.95 L881.83,780.91 L878.33,780.91 Z" fill="#b4ecfa"/>
<path d="M890.86,770.30 L900.06,775.20 L890.86,780.10 Z" fill="#2a87a0" stroke="#22708a" stroke-width="0.9" stroke-linejoin="round"/>
<path d="M892.14,772.55 L895.64,774.51 L892.14,774.51 Z" fill="#b4ecfa"/>
<path d="M904.67,766.50 L913.87,771.40 L904.67,776.30 Z" fill="#2a87a0" stroke="#22708a" stroke-width="0.9" stroke-linejoin="round"/>
<path d="M905.96,768.75 L909.45,770.71 L905.96,770.71 Z" fill="#b4ecfa"/>
<path d="M918.48,761.30 L927.68,766.20 L918.48,771.10 Z" fill="#2a87a0" stroke="#22708a" stroke-width="0.9" stroke-linejoin="round"/>
<path d="M919.77,763.55 L923.26,765.51 L919.77,765.51 Z" fill="#b4ecfa"/>
<path d="M932.29,759.40 L941.49,764.30 L932.29,769.20 Z" fill="#2a87a0" stroke="#22708a" stroke-width="0.9" stroke-linejoin="round"/>
<path d="M933.58,761.65 L937.08,763.61 L933.58,763.61 Z" fill="#b4ecfa"/>
<path d="M946.10,755.60 L955.30,760.50 L946.10,765.40 Z" fill="#2a87a0" stroke="#22708a" stroke-width="0.9" stroke-linejoin="round"/>
<path d="M947.39,757.85 L950.89,759.81 L947.39,759.81 Z" fill="#b4ecfa"/>
<path d="M959.92,753.00 L969.12,757.90 L959.92,762.80 Z" fill="#2a87a0" stroke="#22708a" stroke-width="0.9" stroke-linejoin="round"/>
<path d="M961.20,755.25 L964.70,757.21 L961.20,757.21 Z" fill="#b4ecfa"/>
<path d="M973.73,747.90 L982.93,752.80 L973.73,757.70 Z" fill="#2a87a0" stroke="#22708a" stroke-width="0.9" stroke-linejoin="round"/>
<path d="M975.02,750.15 L978.51,752.11 L975.02,752.11 Z" fill="#b4ecfa"/>
<path d="M987.54,743.40 L996.74,748.30 L987.54,753.20 Z" fill="#2a87a0" stroke="#22708a" stroke-width="0.9" stroke-linejoin="round"/>
<path d="M988.83,745.65 L992.32,747.61 L988.83,747.61 Z" fill="#b4ecfa"/>
<path d="M1001.35,745.00 L1010.55,749.90 L1001.35,754.80 Z" fill="#2a87a0" stroke="#22708a" stroke-width="0.9" stroke-linejoin="round"/>
<path d="M1002.64,747.25 L1006.14,749.21 L1002.64,749.21 Z" fill="#b4ecfa"/>
<path d="M1015.16,741.90 L1024.36,746.80 L1015.16,751.70 Z" fill="#2a87a0" stroke="#22708a" stroke-width="0.9" stroke-linejoin="round"/>
<path d="M1016.45,744.15 L1019.95,746.11 L1016.45,746.11 Z" fill="#b4ecfa"/>
<path d="M1028.98,740.20 L1038.18,745.10 L1028.98,750.00 Z" fill="#2a87a0" stroke="#22708a" stroke-width="0.9" stroke-linejoin="round"/>
<path d="M1030.26,742.45 L1033.76,744.41 L1030.26,744.41 Z" fill="#b4ecfa"/>
<path d="M1042.79,737.90 L1051.99,742.80 L1042.79,747.70 Z" fill="#2a87a0" stroke="#22708a" stroke-width="0.9" stroke-linejoin="round"/>
<path d="M1044.08,740.15 L1047.57,742.11 L1044.08,742.11 Z" fill="#b4ecfa"/>
<path d="M1056.60,737.20 L1065.80,742.10 L1056.60,747.00 Z" fill="#2a87a0" stroke="#22708a" stroke-width="0.9" stroke-linejoin="round"/>
<path d="M1057.89,739.45 L1061.38,741.41 L1057.89,741.41 Z" fill="#b4ecfa"/>
<path d="M1070.41,735.70 L1079.61,740.60 L1070.41,745.50 Z" fill="#2a87a0" stroke="#22708a" stroke-width="0.9" stroke-linejoin="round"/>
<path d="M1071.70,737.95 L1075.20,739.91 L1071.70,739.91 Z" fill="#b4ecfa"/>
<path d="M1084.22,732.00 L1093.42,736.90 L1084.22,741.80 Z" fill="#2a87a0" stroke="#22708a" stroke-width="0.9" stroke-linejoin="round"/>
<path d="M1085.51,734.25 L1089.01,736.21 L1085.51,736.21 Z" fill="#b4ecfa"/>
<path d="M1098.04,731.20 L1107.24,736.10 L1098.04,741.00 Z" fill="#2a87a0" stroke="#22708a" stroke-width="0.9" stroke-linejoin="round"/>
<path d="M1099.32,733.45 L1102.82,735.41 L1099.32,735.41 Z" fill="#b4ecfa"/>
<path d="M1111.85,730.50 L1121.05,735.40 L1111.85,740.30 Z" fill="#2a87a0" stroke="#22708a" stroke-width="0.9" stroke-linejoin="round"/>
<path d="M1113.14,732.75 L1116.63,734.71 L1113.14,734.71 Z" fill="#b4ecfa"/>
<path d="M1125.66,730.50 L1134.86,735.40 L1125.66,740.30 Z" fill="#2a87a0" stroke="#22708a" stroke-width="0.9" stroke-linejoin="round"/>
<path d="M1126.95,732.75 L1130.44,734.71 L1126.95,734.71 Z" fill="#b4ecfa"/>
<polyline points="728.41,692.30 742.22,680.20 756.04,666.70 769.85,653.20 783.66,640.70 797.47,622.70 811.28,617.80 825.10,619.90 838.91,612.30 852.72,607.70 866.53,604.30 880.34,598.40 894.16,597.00 907.97,598.40 921.78,595.00 935.59,599.80 949.40,601.90 963.22,599.40 977.03,599.80 990.84,601.60 1004.65,603.30 1018.46,605.50 1032.28,604.00 1046.09,601.90 1059.90,601.20 1073.71,598.40 1087.52,597.70 1101.34,595.70 1115.15,593.60 1128.96,593.60" fill="none" stroke="#f3cdb0" stroke-width="1.6" stroke-linejoin="round"/>
<polygon points="723.16,687.55 728.41,697.05 733.66,687.55" fill="#f6d2b7"/>
<polygon points="736.97,675.45 742.22,684.95 747.47,675.45" fill="#f6d2b7"/>
<polygon points="750.79,661.95 756.04,671.45 761.29,661.95" fill="#f6d2b7"/>
<polygon points="764.60,648.45 769.85,657.95 775.10,648.45" fill="#f6d2b7"/>
<polygon points="778.41,635.95 783.66,645.45 788.91,635.95" fill="#f6d2b7"/>
<polygon points="792.22,617.95 797.47,627.45 802.72,617.95" fill="#f6d2b7"/>
<polygon points="806.03,613.05 811.28,622.55 816.53,613.05" fill="#f6d2b7"/>
<polygon points="819.85,615.15 825.10,624.65 830.35,615.15" fill="#f6d2b7"/>
<polygon points="833.66,607.55 838.91,617.05 844.16,607.55" fill="#f6d2b7"/>
<polygon points="847.47,602.95 852.72,612.45 857.97,602.95" fill="#f6d2b7"/>
<polygon points="861.28,599.55 866.53,609.05 871.78,599.55" fill="#f6d2b7"/>
<polygon points="875.09,593.65 880.34,603.15 885.59,593.65" fill="#f6d2b7"/>
<polygon points="888.91,592.25 894.16,601.75 899.41,592.25" fill="#f6d2b7"/>
<polygon points="902.72,593.65 907.97,603.15 913.22,593.65" fill="#f6d2b7"/>
<polygon points="916.53,590.25 921.78,599.75 927.03,590.25" fill="#f6d2b7"/>
<polygon points="930.34,595.05 935.59,604.55 940.84,595.05" fill="#f6d2b7"/>
<polygon points="944.15,597.15 949.40,606.65 954.65,597.15" fill="#f6d2b7"/>
<polygon points="957.97,594.65 963.22,604.15 968.47,594.65" fill="#f6d2b7"/>
<polygon points="971.78,595.05 977.03,604.55 982.28,595.05" fill="#f6d2b7"/>
<polygon points="985.59,596.85 990.84,606.35 996.09,596.85" fill="#f6d2b7"/>
<polygon points="999.40,598.55 1004.65,608.05 1009.90,598.55" fill="#f6d2b7"/>
<polygon points="1013.21,600.75 1018.46,610.25 1023.71,600.75" fill="#f6d2b7"/>
<polygon points="1027.03,599.25 1032.28,608.75 1037.53,599.25" fill="#f6d2b7"/>
<polygon points="1040.84,597.15 1046.09,606.65 1051.34,597.15" fill="#f6d2b7"/>
<polygon points="1054.65,596.45 1059.90,605.95 1065.15,596.45" fill="#f6d2b7"/>
<polygon points="1068.46,593.65 1073.71,603.15 1078.96,593.65" fill="#f6d2b7"/>
<polygon points="1082.27,592.95 1087.52,602.45 1092.77,592.95" fill="#f6d2b7"/>
<polygon points="1096.09,590.95 1101.34,600.45 1106.59,590.95" fill="#f6d2b7"/>
<polygon points="1109.90,588.85 1115.15,598.35 1120.40,588.85" fill="#f6d2b7"/>
<polygon points="1123.71,588.85 1128.96,598.35 1134.21,588.85" fill="#f6d2b7"/>
<polyline points="728.41,652.60 742.22,668.40 756.04,681.70 769.85,687.10 783.66,690.80 797.47,700.40 811.28,708.70 825.10,708.70 838.91,709.40 852.72,708.70 866.53,709.40 880.34,713.40 894.16,713.40 907.97,713.40 921.78,712.40 935.59,709.40 949.40,708.40 963.22,709.40 977.03,712.40 990.84,713.40 1004.65,704.20 1018.46,704.20 1032.28,704.20 1046.09,704.50 1059.90,703.00 1073.71,702.70 1087.52,706.90 1101.34,704.20 1115.15,704.20 1128.96,702.70" fill="none" stroke="#e5679b" stroke-width="1.7" stroke-linejoin="round"/>
<line x1="1136.00" y1="703.30" x2="1152.00" y2="703.30" stroke="#e5679b" stroke-width="2.2" stroke-linecap="butt"/>
<polygon points="1157.5,703.3 1148.0,698.3 1150.0,703.3 1148.0,708.3" fill="#e5679b"/>
<circle cx="728.41" cy="652.60" r="4.35" fill="#e5679b" stroke="#c76a93" stroke-width="1.0"/>
<path d="M725.61,652.10 A3.05,3.05 0 0 1 731.22,652.10 Z" fill="#f7cfe0"/>
<circle cx="742.22" cy="668.40" r="4.35" fill="#e5679b" stroke="#c76a93" stroke-width="1.0"/>
<path d="M739.42,667.90 A3.05,3.05 0 0 1 745.03,667.90 Z" fill="#f7cfe0"/>
<circle cx="756.04" cy="681.70" r="4.35" fill="#e5679b" stroke="#c76a93" stroke-width="1.0"/>
<path d="M753.23,681.20 A3.05,3.05 0 0 1 758.84,681.20 Z" fill="#f7cfe0"/>
<circle cx="769.85" cy="687.10" r="4.35" fill="#e5679b" stroke="#c76a93" stroke-width="1.0"/>
<path d="M767.04,686.60 A3.05,3.05 0 0 1 772.65,686.60 Z" fill="#f7cfe0"/>
<circle cx="783.66" cy="690.80" r="4.35" fill="#e5679b" stroke="#c76a93" stroke-width="1.0"/>
<path d="M780.85,690.30 A3.05,3.05 0 0 1 786.47,690.30 Z" fill="#f7cfe0"/>
<circle cx="797.47" cy="700.40" r="4.35" fill="#e5679b" stroke="#c76a93" stroke-width="1.0"/>
<path d="M794.67,699.90 A3.05,3.05 0 0 1 800.28,699.90 Z" fill="#f7cfe0"/>
<circle cx="811.28" cy="708.70" r="4.35" fill="#e5679b" stroke="#c76a93" stroke-width="1.0"/>
<path d="M808.48,708.20 A3.05,3.05 0 0 1 814.09,708.20 Z" fill="#f7cfe0"/>
<circle cx="825.10" cy="708.70" r="4.35" fill="#e5679b" stroke="#c76a93" stroke-width="1.0"/>
<path d="M822.29,708.20 A3.05,3.05 0 0 1 827.90,708.20 Z" fill="#f7cfe0"/>
<circle cx="838.91" cy="709.40" r="4.35" fill="#e5679b" stroke="#c76a93" stroke-width="1.0"/>
<path d="M836.10,708.90 A3.05,3.05 0 0 1 841.71,708.90 Z" fill="#f7cfe0"/>
<circle cx="852.72" cy="708.70" r="4.35" fill="#e5679b" stroke="#c76a93" stroke-width="1.0"/>
<path d="M849.91,708.20 A3.05,3.05 0 0 1 855.53,708.20 Z" fill="#f7cfe0"/>
<circle cx="866.53" cy="709.40" r="4.35" fill="#e5679b" stroke="#c76a93" stroke-width="1.0"/>
<path d="M863.73,708.90 A3.05,3.05 0 0 1 869.34,708.90 Z" fill="#f7cfe0"/>
<circle cx="880.34" cy="713.40" r="4.35" fill="#e5679b" stroke="#c76a93" stroke-width="1.0"/>
<path d="M877.54,712.90 A3.05,3.05 0 0 1 883.15,712.90 Z" fill="#f7cfe0"/>
<circle cx="894.16" cy="713.40" r="4.35" fill="#e5679b" stroke="#c76a93" stroke-width="1.0"/>
<path d="M891.35,712.90 A3.05,3.05 0 0 1 896.96,712.90 Z" fill="#f7cfe0"/>
<circle cx="907.97" cy="713.40" r="4.35" fill="#e5679b" stroke="#c76a93" stroke-width="1.0"/>
<path d="M905.16,712.90 A3.05,3.05 0 0 1 910.77,712.90 Z" fill="#f7cfe0"/>
<circle cx="921.78" cy="712.40" r="4.35" fill="#e5679b" stroke="#c76a93" stroke-width="1.0"/>
<path d="M918.97,711.90 A3.05,3.05 0 0 1 924.59,711.90 Z" fill="#f7cfe0"/>
<circle cx="935.59" cy="709.40" r="4.35" fill="#e5679b" stroke="#c76a93" stroke-width="1.0"/>
<path d="M932.79,708.90 A3.05,3.05 0 0 1 938.40,708.90 Z" fill="#f7cfe0"/>
<circle cx="949.40" cy="708.40" r="4.35" fill="#e5679b" stroke="#c76a93" stroke-width="1.0"/>
<path d="M946.60,707.90 A3.05,3.05 0 0 1 952.21,707.90 Z" fill="#f7cfe0"/>
<circle cx="963.22" cy="709.40" r="4.35" fill="#e5679b" stroke="#c76a93" stroke-width="1.0"/>
<path d="M960.41,708.90 A3.05,3.05 0 0 1 966.02,708.90 Z" fill="#f7cfe0"/>
<circle cx="977.03" cy="712.40" r="4.35" fill="#e5679b" stroke="#c76a93" stroke-width="1.0"/>
<path d="M974.22,711.90 A3.05,3.05 0 0 1 979.83,711.90 Z" fill="#f7cfe0"/>
<circle cx="990.84" cy="713.40" r="4.35" fill="#e5679b" stroke="#c76a93" stroke-width="1.0"/>
<path d="M988.03,712.90 A3.05,3.05 0 0 1 993.65,712.90 Z" fill="#f7cfe0"/>
<circle cx="1004.65" cy="704.20" r="4.35" fill="#e5679b" stroke="#c76a93" stroke-width="1.0"/>
<path d="M1001.85,703.70 A3.05,3.05 0 0 1 1007.46,703.70 Z" fill="#f7cfe0"/>
<circle cx="1018.46" cy="704.20" r="4.35" fill="#e5679b" stroke="#c76a93" stroke-width="1.0"/>
<path d="M1015.66,703.70 A3.05,3.05 0 0 1 1021.27,703.70 Z" fill="#f7cfe0"/>
<circle cx="1032.28" cy="704.20" r="4.35" fill="#e5679b" stroke="#c76a93" stroke-width="1.0"/>
<path d="M1029.47,703.70 A3.05,3.05 0 0 1 1035.08,703.70 Z" fill="#f7cfe0"/>
<circle cx="1046.09" cy="704.50" r="4.35" fill="#e5679b" stroke="#c76a93" stroke-width="1.0"/>
<path d="M1043.28,704.00 A3.05,3.05 0 0 1 1048.89,704.00 Z" fill="#f7cfe0"/>
<circle cx="1059.90" cy="703.00" r="4.35" fill="#e5679b" stroke="#c76a93" stroke-width="1.0"/>
<path d="M1057.09,702.50 A3.05,3.05 0 0 1 1062.71,702.50 Z" fill="#f7cfe0"/>
<circle cx="1073.71" cy="702.70" r="4.35" fill="#e5679b" stroke="#c76a93" stroke-width="1.0"/>
<path d="M1070.91,702.20 A3.05,3.05 0 0 1 1076.52,702.20 Z" fill="#f7cfe0"/>
<circle cx="1087.52" cy="706.90" r="4.35" fill="#e5679b" stroke="#c76a93" stroke-width="1.0"/>
<path d="M1084.72,706.40 A3.05,3.05 0 0 1 1090.33,706.40 Z" fill="#f7cfe0"/>
<circle cx="1101.34" cy="704.20" r="4.35" fill="#e5679b" stroke="#c76a93" stroke-width="1.0"/>
<path d="M1098.53,703.70 A3.05,3.05 0 0 1 1104.14,703.70 Z" fill="#f7cfe0"/>
<circle cx="1115.15" cy="704.20" r="4.35" fill="#e5679b" stroke="#c76a93" stroke-width="1.0"/>
<path d="M1112.34,703.70 A3.05,3.05 0 0 1 1117.95,703.70 Z" fill="#f7cfe0"/>
<circle cx="1128.96" cy="702.70" r="4.35" fill="#e5679b" stroke="#c76a93" stroke-width="1.0"/>
<path d="M1126.15,702.20 A3.05,3.05 0 0 1 1131.77,702.20 Z" fill="#f7cfe0"/>
<text x="1070.10" y="579.70" font-size="18" fill="#dcbaa2" textLength="11.54" lengthAdjust="spacingAndGlyphs">C</text>
<text x="1081.40" y="584.70" font-size="10.5" fill="#dcbaa2">8</text>
<text x="1087.70" y="579.70" font-size="18" fill="#dcbaa2" textLength="16.28" lengthAdjust="spacingAndGlyphs">-C</text>
<text x="1104.40" y="584.70" font-size="10.5" fill="#dcbaa2">16</text>
<text x="1070.10" y="690.20" font-size="18" fill="#d9719e" textLength="24.60" lengthAdjust="spacingAndGlyphs">CO</text>
<text x="1093.90" y="696.20" font-size="10.5" fill="#d9719e">2</text>
<text x="1104.20" y="690.20" font-size="18" fill="#d9719e" textLength="41.20" lengthAdjust="spacingAndGlyphs">conv.</text>
<text x="1070.10" y="727.50" font-size="18" fill="#2b7f96" textLength="55.50" lengthAdjust="spacingAndGlyphs">CO sel.</text>
<text x="1069.90" y="756.50" font-size="18" fill="#adadad" textLength="24.40" lengthAdjust="spacingAndGlyphs">CH</text>
<text x="1094.20" y="762.40" font-size="10.5" fill="#adadad">4</text>
<text x="1070.10" y="784.00" font-size="18" fill="#9fd6c8" textLength="11.54" lengthAdjust="spacingAndGlyphs">C</text>
<text x="1081.40" y="789.60" font-size="10.5" fill="#9fd6c8">2</text>
<text x="1087.70" y="784.00" font-size="18" fill="#9fd6c8" textLength="16.28" lengthAdjust="spacingAndGlyphs">-C</text>
<text x="1104.40" y="789.60" font-size="10.5" fill="#9fd6c8">4</text>
<text x="1070.30" y="825.40" font-size="18" fill="#4d5c8c" textLength="11.54" lengthAdjust="spacingAndGlyphs">C</text>
<text x="1081.60" y="830.70" font-size="10.5" fill="#4d5c8c">5</text>
<text x="1087.90" y="825.40" font-size="18" fill="#4d5c8c" textLength="16.28" lengthAdjust="spacingAndGlyphs">-C</text>
<text x="1104.60" y="830.70" font-size="10.5" fill="#4d5c8c">7</text>
<text x="800.00" y="827.60" font-size="18" fill="#c4a0d4" textLength="11.60" lengthAdjust="spacingAndGlyphs">C</text>
<text x="811.80" y="833.20" font-size="10.5" fill="#c4a0d4" textLength="15.50" lengthAdjust="spacingAndGlyphs">16+</text>
<text x="0" y="0" font-size="19.5" fill="#3c3c3c" text-anchor="middle" transform="translate(673.60,693.60) rotate(-90)" textLength="259.50" lengthAdjust="spacingAndGlyphs" stroke="#3c3c3c" stroke-width="0.35">Hydrocarbon distribution (%)</text>
<text x="0" y="0" font-size="19.5" fill="#3c3c3c" text-anchor="middle" transform="translate(1216.90,693.50) rotate(-90)" textLength="271.80" lengthAdjust="spacingAndGlyphs" stroke="#3c3c3c" stroke-width="0.35">Conversion and selectivity (%)</text>
<text x="859.40" y="904.00" font-size="19.5" fill="#3c3c3c" textLength="156.00" lengthAdjust="spacingAndGlyphs" stroke="#3c3c3c" stroke-width="0.35">Reaction time (h)</text>
</svg></body></html>
